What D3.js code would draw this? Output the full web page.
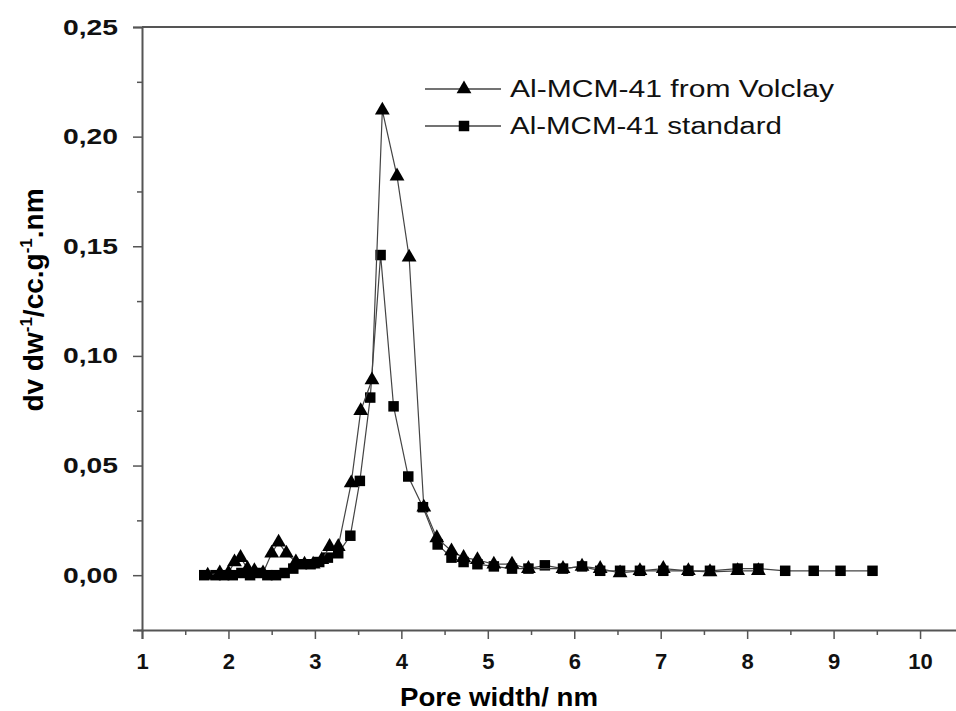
<!DOCTYPE html>
<html>
<head>
<meta charset="utf-8">
<script src="https://cdn.jsdelivr.net/npm/d3@7/dist/d3.min.js"></script>
<style>
  body { margin: 0; background: #fff; }
  svg { display: block; font-family: "Liberation Sans", Arial, sans-serif; }
</style>
</head>
<body>
<div id="chart"></div>
<script>
// ******* DATA *******
// Al-MCM-41 from Volclay (triangles)
const volclayX = [1.76, 1.9, 2.0, 2.07, 2.14, 2.22, 2.3, 2.4, 2.5, 2.58, 2.67, 2.78, 2.88, 2.98, 3.08, 3.17, 3.27,
    3.42, 3.53, 3.66, 3.78, 3.95, 4.09, 4.26, 4.41, 4.58, 4.72, 4.88, 5.07, 5.28, 5.47, 5.87, 6.09, 6.30, 6.53,
    6.76, 7.03, 7.32, 7.57, 7.89, 8.13];
const volclayY = [0.000, 0.001, 0.001, 0.006, 0.008, 0.003, 0.002, 0.001, 0.010, 0.015, 0.010, 0.006, 0.005, 0.005,
    0.007, 0.013, 0.013, 0.042, 0.075, 0.089, 0.212, 0.182, 0.145, 0.031, 0.017, 0.011, 0.008, 0.007, 0.005, 0.005,
    0.003, 0.003, 0.004, 0.003, 0.001, 0.002, 0.003, 0.002, 0.0015, 0.002, 0.002];

// Al-MCM-41 standard (squares)
const standardX = [1.72, 1.85, 1.95, 2.05, 2.15, 2.25, 2.35, 2.45, 2.55, 2.65, 2.75, 2.85, 2.95, 3.05, 3.15, 3.27,
    3.41, 3.52, 3.64, 3.76, 3.91, 4.08, 4.25, 4.42, 4.58, 4.72, 4.88, 5.07, 5.28, 5.47, 5.66, 5.87, 6.09, 6.30,
    6.53, 6.76, 7.03, 7.32, 7.57, 7.89, 8.13, 8.44, 8.77, 9.08, 9.45];
const standardY = [0.000, 0.000, 0.000, 0.000, 0.001, 0.000, 0.001, 0.000, 0.000, 0.001, 0.003, 0.005, 0.005, 0.006,
    0.008, 0.010, 0.018, 0.043, 0.081, 0.146, 0.077, 0.045, 0.031, 0.014, 0.008, 0.006, 0.005, 0.004, 0.003, 0.003,
    0.0045, 0.003, 0.004, 0.002, 0.002, 0.002, 0.002, 0.002, 0.002, 0.003, 0.003, 0.002, 0.002, 0.002, 0.002];

const xTicks = [1, 2, 3, 4, 5, 6, 7, 8, 9, 10];
const yTicks = [0, 0.05, 0.10, 0.15, 0.20, 0.25];
const seriesNames = ["Al-MCM-41 from Volclay", "Al-MCM-41 standard"];

// ******* LAYOUT *******
const width = 956, height = 711;
const margin = { left: 142, top: 27, bottom: 81 };

const svg = d3.select("#chart").append("svg")
    .attr("width", width)
    .attr("height", height);

// x domain runs past the right edge of the picture, like the original crop
const x = d3.scaleLinear().domain([1, 10.5]).range([margin.left, margin.left + 9.5 * 86.45]);
const y = d3.scaleLinear().domain([-0.025, 0.25]).range([height - margin.bottom, margin.top]);

const axisColor = "#555";

// frame (top)
svg.append("line")
    .attr("x1", x(1)).attr("x2", x(10.5))
    .attr("y1", y(0.25)).attr("y2", y(0.25))
    .attr("stroke", axisColor).attr("stroke-width", 2);

// x axis
svg.append("g")
    .attr("class", "x-axis")
    .attr("transform", `translate(0,${y(-0.025)})`)
    .call(d3.axisBottom(x).tickValues(xTicks).tickSize(9).tickPadding(14).tickFormat(d3.format("d")));
svg.append("g")
    .attr("transform", `translate(0,${y(-0.025)})`)
    .call(d3.axisBottom(x).tickValues(d3.range(1.5, 10.5, 1)).tickSize(5).tickFormat(""))
    .call(g => g.select(".domain").remove());

// y axis
const commaFmt = d => d3.format(".2f")(d).replace(".", ",");
svg.append("g")
    .attr("class", "y-axis")
    .attr("transform", `translate(${x(1)},0)`)
    .call(d3.axisLeft(y).tickValues(yTicks).tickSize(9).tickPadding(15).tickFormat(commaFmt));
svg.append("g")
    .attr("transform", `translate(${x(1)},0)`)
    .call(d3.axisLeft(y).tickValues([-0.025, 0.025, 0.075, 0.125, 0.175, 0.225]).tickSize(5).tickFormat(""))
    .call(g => g.select(".domain").remove());

svg.selectAll(".domain")
    .attr("stroke", axisColor).attr("stroke-width", 2);
svg.selectAll(".tick line")
    .attr("stroke", axisColor).attr("stroke-width", 1.5);
svg.selectAll(".tick text")
    .attr("fill", "#111")
    .style("font-size", "22px")
    .style("font-weight", "bold");
svg.selectAll(".y-axis .tick text")
    .attr("textLength", 55)
    .attr("lengthAdjust", "spacingAndGlyphs");

// axis titles
svg.append("text")
    .attr("x", 499).attr("y", 706)
    .attr("text-anchor", "middle")
    .attr("textLength", 198)
    .attr("lengthAdjust", "spacingAndGlyphs")
    .style("font-size", "25px").style("font-weight", "bold")
    .text("Pore width/ nm");

const yTitle = svg.append("text")
    .attr("transform", "translate(43,300) rotate(-90)")
    .attr("text-anchor", "middle")
    .style("font-size", "28px").style("font-weight", "bold");
yTitle.append("tspan").text("dv dw");
yTitle.append("tspan").attr("dy", -11).style("font-size", "17px").text("-1");
yTitle.append("tspan").attr("dy", 11).text("/cc.g");
yTitle.append("tspan").attr("dy", -11).style("font-size", "17px").text("-1");
yTitle.append("tspan").attr("dy", 11).text(".nm");

// ******* SERIES *******
const line = d3.line().x(d => x(d[0])).y(d => y(d[1]));
const volclay = volclayX.map((v, i) => [v, volclayY[i]]);
const standard = standardX.map((v, i) => [v, standardY[i]]);

const tri = d3.symbol().type(d3.symbolTriangle).size(95);
const sq = d3.symbol().type(d3.symbolSquare).size(110);

function drawSeries(data, sym) {
    svg.append("path")
        .datum(data)
        .attr("fill", "none")
        .attr("stroke", "#444")
        .attr("stroke-width", 1.2)
        .attr("d", line);
    svg.append("g").selectAll("path")
        .data(data)
        .join("path")
        .attr("transform", d => `translate(${x(d[0])},${y(d[1])})`)
        .attr("d", sym)
        .attr("fill", "#000");
}
drawSeries(standard, sq);
drawSeries(volclay, tri);

// ******* LEGEND *******
const legend = svg.append("g");
const legendWidths = [324, 272];
[tri, sq].forEach((sym, i) => {
    const ly = 89 + i * 37;
    legend.append("line")
        .attr("x1", 425).attr("x2", 501)
        .attr("y1", ly).attr("y2", ly)
        .attr("stroke", "#444").attr("stroke-width", 1.5);
    legend.append("path")
        .attr("transform", `translate(464,${ly})`)
        .attr("d", sym)
        .attr("fill", "#000");
    legend.append("text")
        .attr("x", 510).attr("y", ly + 8)
        .attr("textLength", legendWidths[i])
        .attr("lengthAdjust", "spacingAndGlyphs")
        .style("font-size", "23px")
        .attr("fill", "#111")
        .text(seriesNames[i]);
});
</script>
</body>
</html>
